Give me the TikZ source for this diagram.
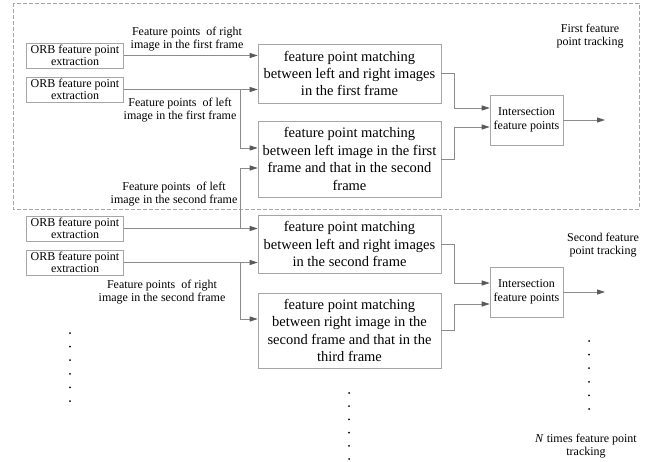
\documentclass[tikz,border=0pt]{standalone}
\usepackage{fontspec}
\setmainfont{Liberation Serif}
\usetikzlibrary{arrows.meta}
\definecolor{linegray}{HTML}{8C8C8C}
\definecolor{boxgray}{HTML}{A6A6A6}
\definecolor{tipgray}{HTML}{5A5A5A}
\begin{document}
\begin{tikzpicture}[x=1pt,y=-1pt,
        orbbox/.style={draw=boxgray, line width=0.7pt, minimum width=97pt, minimum height=25pt, inner sep=0pt, align=center, font=\fontsize{12}{12.5}\selectfont},
        matchbox/.style={draw=boxgray, line width=0.7pt, minimum width=183pt, inner sep=0pt, align=center, font=\fontsize{14.5}{17.4}\selectfont},
        interbox/.style={draw=boxgray, line width=0.7pt, minimum width=73pt, minimum height=50pt, inner sep=0pt, align=center, font=\fontsize{12}{14}\selectfont},
        lbl/.style={align=center, inner sep=0pt, font=\fontsize{12}{13}\selectfont},
        arr/.style={draw=linegray, line width=0.8pt, -{Triangle[length=8pt,width=5pt,color=tipgray]}}]
        \useasboundingbox (0,0) rectangle (652,462);
        \draw[boxgray, dash pattern=on 4pt off 2pt, line width=0.6pt] (13,3) rectangle (639,209);
        \node[orbbox] (orbA) at (75,55.5) {ORB feature point\\extraction};
        \node[orbbox] (orbB) at (75,89.5) {ORB feature point\\extraction};
        \node[orbbox] (orbC) at (75,228.5) {ORB feature point\\extraction};
        \node[orbbox] (orbD) at (75,262.5) {ORB feature point\\extraction};
        \node[matchbox, minimum height=59pt] (matchA) at (349.5,73.5) {feature point matching\\between left and right images\\in the first frame};
        \node[matchbox, minimum height=76pt] (matchB) at (349.5,159) {feature point matching\\between left image in the first\\frame and that in the second\\frame};
        \node[matchbox, minimum height=58pt] (matchC) at (349.5,244) {feature point matching\\between left and right images\\in the second frame};
        \node[matchbox, minimum height=75pt] (matchD) at (349.5,330.5) {feature point matching\\between right image in the\\second frame and that in the\\third frame};
        \node[interbox] (interA) at (526.5,120) {Intersection\\feature points};
        \node[interbox] (interB) at (526.5,292) {Intersection\\feature points};
        \coordinate (splitA) at (240,89.5);
        \coordinate (splitB) at (240,228.5);
        \coordinate (splitC) at (240,262.5);
        \coordinate (outA) at (605,120);
        \coordinate (outB) at (605,292);
        \draw[arr] (orbA.east) -- (orbA.east -| matchA.west);
        \draw[arr] (orbB.east) -- (orbB.east -| matchA.west);
        \draw[arr] (splitA) |- ([yshift=11pt]matchB.west);
        \draw[arr] (orbC.east) -- (orbC.east -| matchC.west);
        \draw[arr] (splitB) |- ([yshift=-9pt]matchB.west);
        \draw[arr] (orbD.east) -- (orbD.east -| matchC.west);
        \draw[arr] (splitC) |- ([yshift=11.5pt]matchD.west);
        \draw[arr] (matchA.east) -- ++(13,0) |- ([yshift=12pt]interA.west);
        \draw[arr] (matchB.east) -- ++(13,0) |- ([yshift=-7pt]interA.west);
        \draw[arr] (matchC.east) -- ++(13,0) |- ([yshift=9pt]interB.west);
        \draw[arr] (matchD.east) -- ++(13,0) |- ([yshift=-12pt]interB.west);
        \draw[arr] (interA.east) -- (outA);
        \draw[arr] (interB.east) -- (outB);
        \node[lbl] (lblA) at (187,39) {Feature points~~of right\\image in the first frame};
        \node[lbl] (lblB) at (180,110) {Feature points~~of left\\image in the first frame};
        \node[lbl] (lblC) at (174,194) {Feature points~~of left\\image in the second frame};
        \node[lbl] (lblD) at (162,292) {Feature points~~of right\\image in the second frame};
        \node[lbl] (trackA) at (590,36) {First feature\\point tracking};
        \node[lbl] (trackB) at (603,245) {Second feature\\point tracking};
        \node[lbl] (trackN) at (586,446) {\textit{N} times feature point\\tracking};
        \foreach \k in {0,...,5} {
                \fill (70,333+13.6*\k) circle (1pt);
                \fill (349,393+13.2*\k) circle (1pt);
                \fill (589,341+13.6*\k) circle (1pt);
            }
    \end{tikzpicture}
\end{document}
